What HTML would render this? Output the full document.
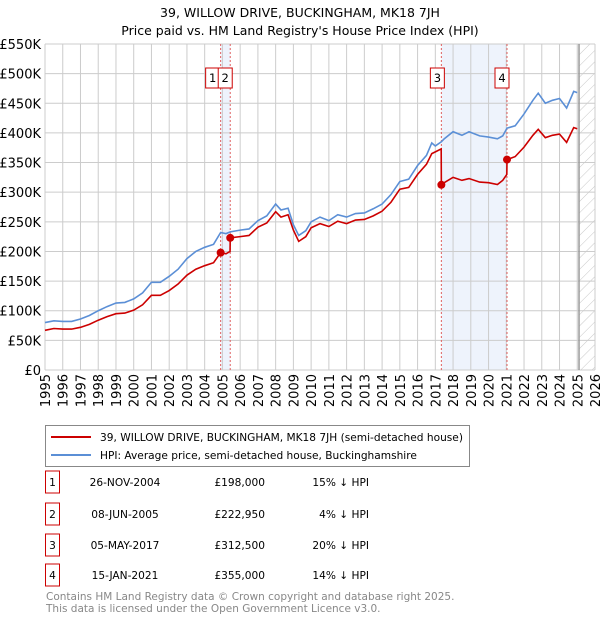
<!DOCTYPE html>
<html><head><meta charset="utf-8"><style>
body{margin:0;background:#fff;font-family:"Liberation Sans","DejaVu Sans",sans-serif;}
svg text{font-family:"DejaVu Sans","Liberation Sans",sans-serif;}
</style></head><body>
<svg id="chart" width="600" height="620" viewBox="0 0 600 620" xmlns="http://www.w3.org/2000/svg">
<text x="300" y="17" text-anchor="middle" font-size="12.5">39, WILLOW DRIVE, BUCKINGHAM, MK18 7JH</text>
<text x="300" y="35" text-anchor="middle" font-size="12.5">Price paid vs. HM Land Registry's House Price Index (HPI)</text>
<g id="plot"></g>
<g>
<rect x="45.5" y="425.5" width="424" height="41" fill="#fff" stroke="#888"/>
<line x1="51" y1="437" x2="91" y2="437" stroke="#cc0000" stroke-width="2"/>
<text x="100" y="441" font-size="10.6">39, WILLOW DRIVE, BUCKINGHAM, MK18 7JH (semi-detached house)</text>
<line x1="51" y1="455" x2="91" y2="455" stroke="#5b8fd6" stroke-width="2"/>
<text x="100" y="459" font-size="10.6">HPI: Average price, semi-detached house, Buckinghamshire</text>
</g>
<g id="table"></g>
<text x="46" y="600" font-size="10.5" fill="#888">Contains HM Land Registry data © Crown copyright and database right 2025.</text>
<text x="46" y="612" font-size="10.5" fill="#888">This data is licensed under the Open Government Licence v3.0.</text>
</svg>
<script>
const yTicks=[0,50,100,150,200,250,300,350,400,450,500,550];
const yTickLabels=["£0","£50K","£100K","£150K","£200K","£250K","£300K","£350K","£400K","£450K","£500K","£550K"];
const years=[1995,1996,1997,1998,1999,2000,2001,2002,2003,2004,2005,2006,2007,2008,2009,2010,2011,2012,2013,2014,2015,2016,2017,2018,2019,2020,2021,2022,2023,2024,2025,2026];
const hpiDates=[1995,1995.5,1996,1996.5,1997,1997.5,1998,1998.5,1999,1999.5,2000,2000.5,2001,2001.5,2002,2002.5,2003,2003.5,2004,2004.5,2004.9,2005.2,2005.44,2006,2006.5,2007,2007.5,2008,2008.3,2008.7,2009,2009.3,2009.7,2010,2010.5,2011,2011.5,2012,2012.5,2013,2013.5,2014,2014.5,2015,2015.5,2016,2016.5,2016.8,2017,2017.34,2017.5,2018,2018.5,2018.9,2019.5,2020,2020.5,2020.8,2021.04,2021.5,2022,2022.5,2022.8,2023.2,2023.6,2024,2024.4,2024.8,2025];
const hpiValues=[80,83,82,82,86,92,100,107,113,114,120,130,148,148,158,170,188,200,207,212,232,230,233,236,238,252,260,280,270,273,245,227,235,250,258,252,262,258,264,265,272,280,296,318,322,345,362,383,378,385,390,402,396,402,395,393,390,395,408,412,432,455,467,450,455,458,442,470,468];
const priceDates=[1995,1995.5,1996,1996.5,1997,1997.5,1998,1998.5,1999,1999.5,2000,2000.5,2001,2001.5,2002,2002.5,2003,2003.5,2004,2004.5,2004.9,2005.2,2005.43,2005.44,2006,2006.5,2007,2007.5,2008,2008.3,2008.7,2009,2009.3,2009.7,2010,2010.5,2011,2011.5,2012,2012.5,2013,2013.5,2014,2014.5,2015,2015.5,2016,2016.5,2016.8,2017,2017.33,2017.34,2017.5,2018,2018.5,2018.9,2019.5,2020,2020.5,2020.8,2021.03,2021.04,2021.5,2022,2022.5,2022.8,2023.2,2023.6,2024,2024.4,2024.8,2025];
const priceValues=[67,70,69,69,72,77,84,90,95,96,101,110,126,126,134,145,160,170,176,181,198,196,200,223,225,227,241,248,267,258,262,236,217,225,240,247,242,251,247,253,254,260,268,283,305,308,330,347,365,368,373,312.5,316,325,320,323,317,316,313,320,330,355,360,376,396,406,392,396,398,384,409,407];
const saleIds=["1","2","3","4"];
const saleDates=[2004.9,2005.44,2017.34,2021.04];
const salePrices=[198,222.95,312.5,355];
const saleDateLabels=["26-NOV-2004","08-JUN-2005","05-MAY-2017","15-JAN-2021"];
const salePriceLabels=["£198,000","£222,950","£312,500","£355,000"];
const salePctLabels=["15% ↓ HPI","4% ↓ HPI","20% ↓ HPI","14% ↓ HPI"];
const shadeRanges=[[0,1],[2,3]];
const hatchStart=2025.1;

const NS="http://www.w3.org/2000/svg";
const L=45,R=595,T=44,B=370;
const X=t=>L+(t-1995)/(2026-1995)*(R-L);
const Y=v=>B-v/550*(B-T);
const plot=document.getElementById('plot');
function mk(tag,attrs,parent){const e=document.createElementNS(NS,tag);for(const k in attrs)e.setAttribute(k,attrs[k]);(parent||plot).appendChild(e);return e;}
const defs=mk('defs',{});
const pat=mk('pattern',{id:'hatch',width:8,height:8,patternUnits:'userSpaceOnUse',patternTransform:'rotate(45)'},defs);
mk('line',{x1:0,y1:0,x2:0,y2:8,stroke:'#c8c8c8','stroke-width':1},pat);
shadeRanges.forEach(r=>{
const e=mk('rect',{x:X(saleDates[r[0]]),y:T,width:X(saleDates[r[1]])-X(saleDates[r[0]]),height:B-T,fill:'#eef3fc'});


});
const h=mk('rect',{x:X(hatchStart),y:T,width:R-X(hatchStart),height:B-T,fill:'url(#hatch)'});


yTicks.forEach((v,i)=>{
const g=mk('line',{x1:L,x2:R,y1:Y(v),y2:Y(v),stroke:'#cccccc'});


const t=mk('text',{x:L-4,y:Y(v)+5,'text-anchor':'end','font-size':13});
t.textContent=yTickLabels[i];


});
years.forEach(yr=>{
const g=mk('line',{x1:X(yr),x2:X(yr),y1:T,y2:B,stroke:'#cccccc'});


const t=mk('text',{x:0,y:0,'text-anchor':'end','font-size':13,transform:`translate(${X(yr)+5},374) rotate(-90)`});
t.textContent=yr;


});
const hl=mk('line',{x1:X(hatchStart),x2:X(hatchStart),y1:T,y2:B,stroke:'#999','stroke-width':1.5});


saleDates.forEach(d=>{
const e=mk('line',{x1:X(d),x2:X(d),y1:T,y2:B,stroke:'#e06060','stroke-dasharray':'2,2'});


});
const hp=mk('polyline',{points:hpiDates.map((d,i)=>X(d)+','+Y(hpiValues[i])).join(' '),fill:'none',stroke:'#5b8fd6','stroke-width':1.6});


const pp=mk('polyline',{points:priceDates.map((d,i)=>X(d)+','+Y(priceValues[i])).join(' '),fill:'none',stroke:'#cc0000','stroke-width':1.6});


saleDates.forEach((d,i)=>{
const c=mk('circle',{cx:X(d),cy:Y(salePrices[i]),r:4,fill:'#cc0000'});


});
const boxOff=[-8,-5,-4,-5];
saleDates.forEach((d,i)=>{
const cx=X(d)+boxOff[i];
const r=mk('rect',{x:cx-7,y:68,width:14,height:20,fill:'#fff',stroke:'#cc0000'});


const t=mk('text',{x:cx,y:82,'text-anchor':'middle','font-size':11.5});
t.textContent=saleIds[i];


});
const tb=document.getElementById('table');
const rowY=[482,514,545,575];
saleIds.forEach((id,i)=>{
const y=rowY[i];
const r=mk('rect',{x:45.5,y:y-11,width:14,height:22,fill:'#fff',stroke:'#cc0000'},tb);


const cells=[[52.5,id,'middle'],[125,saleDateLabels[i],'middle'],[265,salePriceLabels[i],'end'],[369,salePctLabels[i],'end']];
cells.forEach(c=>{
const t=mk('text',{x:c[0],y:y+4,'text-anchor':c[2],'font-size':10.6},tb);
t.textContent=c[1];


});
});
</script>
</body></html>
